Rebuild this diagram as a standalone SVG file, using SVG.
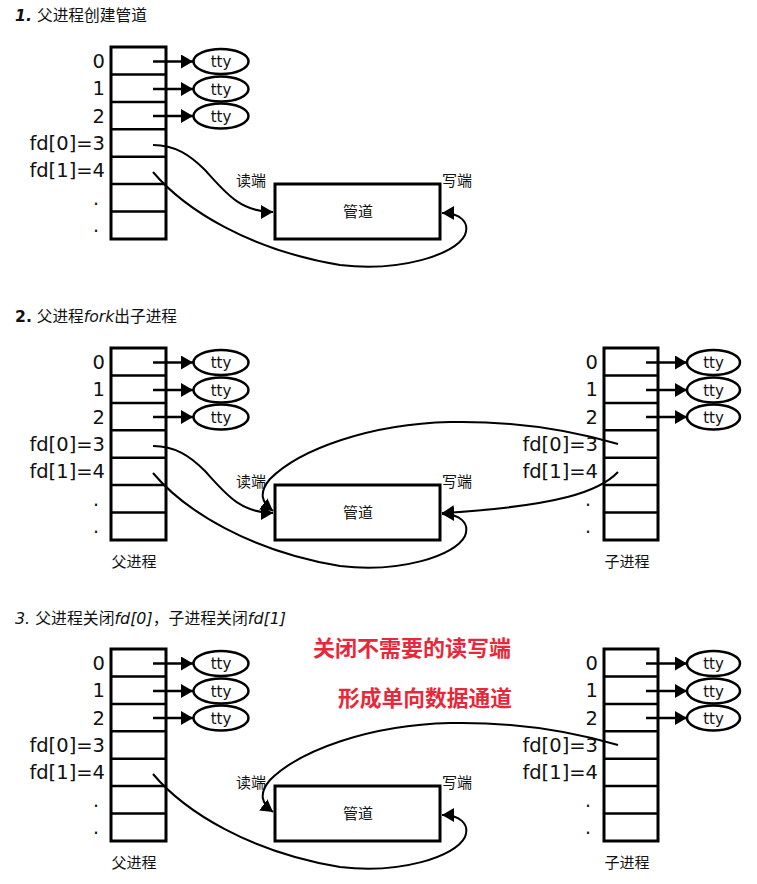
<svg xmlns="http://www.w3.org/2000/svg" width="757" height="884" viewBox="0 0 757 884">
<defs>
<style>
.tb{fill:#fff;stroke:#000;stroke-width:3}
.rl{fill:none;stroke:#000;stroke-width:2.5}
.el{fill:#fff;stroke:#000;stroke-width:2.5}
.num{font-family:"DejaVu Sans",sans-serif;font-size:19.5px;fill:#111;text-anchor:end}
.dot{font-family:"DejaVu Sans",sans-serif;font-size:19px;fill:#111;text-anchor:middle}
.tty{font-family:"DejaVu Sans",sans-serif;font-size:15px;fill:#111;text-anchor:middle}
.cj{font-family:"Noto Sans CJK SC",sans-serif;font-size:15px;fill:#111}
.ttl{font-family:"DejaVu Sans","Noto Sans CJK SC",sans-serif;font-size:15.5px;fill:#111}
.red{font-family:"Noto Sans CJK SC",sans-serif;font-weight:bold;font-size:21.5px;fill:#e8283a}
.pp{fill:#fff;stroke:#000;stroke-width:3}
.cn{fill:none;stroke:#000;stroke-width:2}
.ar{fill:none;stroke:#000;stroke-width:2.5}
</style>
<marker id="ah" viewBox="0 0 12 14" refX="12" refY="7" markerWidth="12" markerHeight="14" markerUnits="userSpaceOnUse" orient="auto"><path d="M0,0L12,7L0,14z" fill="#000"/></marker>
</defs>
<rect width="757" height="884" fill="#fff"/>

<!-- titles -->
<text class="ttl" x="15" y="21" textLength="132" lengthAdjust="spacingAndGlyphs"><tspan font-style="italic" font-weight="bold">1.</tspan> 父进程创建管道</text>
<text class="ttl" x="15" y="322" textLength="162" lengthAdjust="spacingAndGlyphs"><tspan font-weight="bold">2.</tspan> 父进程<tspan font-style="italic">fork</tspan>出子进程</text>
<text class="ttl" x="15" y="624" textLength="271" lengthAdjust="spacingAndGlyphs"><tspan font-style="italic">3.</tspan> 父进程关闭<tspan font-style="italic">fd[0]</tspan>，子进程关闭<tspan font-style="italic">fd[1]</tspan></text>

<text class="red" x="313" y="656" textLength="198" lengthAdjust="spacingAndGlyphs">关闭不需要的读写端</text>
<text class="red" x="338" y="706" textLength="174" lengthAdjust="spacingAndGlyphs">形成单向数据通道</text>

<!-- ===== Section 1 ===== -->
<g id="s1-parent-table">
<rect class="tb" x="111" y="47" width="55" height="192"/>
<path class="rl" d="M111,74.4H166M111,101.9H166M111,129.3H166M111,156.7H166M111,184.1H166M111,211.6H166"/>
<text class="num" x="105" y="67.7">0</text>
<text class="num" x="105" y="95.1">1</text>
<text class="num" x="105" y="122.6">2</text>
<text class="num" x="105" y="150">fd[0]=3</text>
<text class="num" x="105" y="177.4">fd[1]=4</text>
<text class="dot" x="96" y="205">.</text>
<text class="dot" x="96" y="232">.</text>
</g>
<g id="s1-tty0"><ellipse class="el" cx="221" cy="61.5" rx="27.5" ry="12.5"/><text class="tty" x="221" y="67">tty</text></g>
<g id="s1-tty1"><ellipse class="el" cx="221" cy="89" rx="27.5" ry="12.5"/><text class="tty" x="221" y="94.5">tty</text></g>
<g id="s1-tty2"><ellipse class="el" cx="221" cy="116" rx="27.5" ry="12.5"/><text class="tty" x="221" y="121.5">tty</text></g>
<g id="s1-pipe">
<rect class="pp" x="275" y="184" width="165" height="55"/>
<text class="cj" x="358" y="217" text-anchor="middle">管道</text>
<text class="cj" x="236" y="186">读端</text>
<text class="cj" x="442" y="186">写端</text>
</g>

<!-- ===== Section 2 ===== -->
<g id="s2-parent-table" transform="translate(0,301)">
<rect class="tb" x="111" y="47" width="55" height="192"/>
<path class="rl" d="M111,74.4H166M111,101.9H166M111,129.3H166M111,156.7H166M111,184.1H166M111,211.6H166"/>
<text class="num" x="105" y="67.7">0</text>
<text class="num" x="105" y="95.1">1</text>
<text class="num" x="105" y="122.6">2</text>
<text class="num" x="105" y="150">fd[0]=3</text>
<text class="num" x="105" y="177.4">fd[1]=4</text>
<text class="dot" x="96" y="205">.</text>
<text class="dot" x="96" y="232">.</text>
<text class="cj" x="134" y="266" text-anchor="middle">父进程</text>
</g>
<g id="s2-tty0" transform="translate(0,301)"><ellipse class="el" cx="221" cy="61.5" rx="27.5" ry="12.5"/><text class="tty" x="221" y="67">tty</text></g>
<g id="s2-tty1" transform="translate(0,301)"><ellipse class="el" cx="221" cy="89" rx="27.5" ry="12.5"/><text class="tty" x="221" y="94.5">tty</text></g>
<g id="s2-tty2" transform="translate(0,301)"><ellipse class="el" cx="221" cy="116" rx="27.5" ry="12.5"/><text class="tty" x="221" y="121.5">tty</text></g>
<g id="s2-pipe" transform="translate(0,301)">
<rect class="pp" x="275" y="184" width="165" height="55"/>
<text class="cj" x="358" y="217" text-anchor="middle">管道</text>
<text class="cj" x="236" y="186">读端</text>
<text class="cj" x="442" y="186">写端</text>
</g>
<g id="s2-child-table" transform="translate(0,301)">
<rect class="tb" x="604" y="47" width="54" height="192"/>
<path class="rl" d="M604,74.4H658M604,101.9H658M604,129.3H658M604,156.7H658M604,184.1H658M604,211.6H658"/>
<text class="num" x="598" y="67.7">0</text>
<text class="num" x="598" y="95.1">1</text>
<text class="num" x="598" y="122.6">2</text>
<text class="num" x="598" y="150">fd[0]=3</text>
<text class="num" x="598" y="177.4">fd[1]=4</text>
<text class="dot" x="588" y="205">.</text>
<text class="dot" x="588" y="232">.</text>
<text class="cj" x="627" y="266" text-anchor="middle">子进程</text>
</g>
<g id="s2-ctty0" transform="translate(0,301)"><ellipse class="el" cx="713.5" cy="61.5" rx="26.5" ry="12.5"/><text class="tty" x="713.5" y="67">tty</text></g>
<g id="s2-ctty1" transform="translate(0,301)"><ellipse class="el" cx="713.5" cy="89" rx="26.5" ry="12.5"/><text class="tty" x="713.5" y="94.5">tty</text></g>
<g id="s2-ctty2" transform="translate(0,301)"><ellipse class="el" cx="713.5" cy="116" rx="26.5" ry="12.5"/><text class="tty" x="713.5" y="121.5">tty</text></g>

<!-- ===== Section 3 ===== -->
<g id="s3-parent-table" transform="translate(0,602)">
<rect class="tb" x="111" y="47" width="55" height="192"/>
<path class="rl" d="M111,74.4H166M111,101.9H166M111,129.3H166M111,156.7H166M111,184.1H166M111,211.6H166"/>
<text class="num" x="105" y="67.7">0</text>
<text class="num" x="105" y="95.1">1</text>
<text class="num" x="105" y="122.6">2</text>
<text class="num" x="105" y="150">fd[0]=3</text>
<text class="num" x="105" y="177.4">fd[1]=4</text>
<text class="dot" x="96" y="205">.</text>
<text class="dot" x="96" y="232">.</text>
<text class="cj" x="134" y="266" text-anchor="middle">父进程</text>
</g>
<g id="s3-tty0" transform="translate(0,602)"><ellipse class="el" cx="221" cy="61.5" rx="27.5" ry="12.5"/><text class="tty" x="221" y="67">tty</text></g>
<g id="s3-tty1" transform="translate(0,602)"><ellipse class="el" cx="221" cy="89" rx="27.5" ry="12.5"/><text class="tty" x="221" y="94.5">tty</text></g>
<g id="s3-tty2" transform="translate(0,602)"><ellipse class="el" cx="221" cy="116" rx="27.5" ry="12.5"/><text class="tty" x="221" y="121.5">tty</text></g>
<g id="s3-pipe" transform="translate(0,602)">
<rect class="pp" x="275" y="184" width="165" height="55"/>
<text class="cj" x="358" y="217" text-anchor="middle">管道</text>
<text class="cj" x="236" y="186">读端</text>
<text class="cj" x="442" y="186">写端</text>
</g>
<g id="s3-child-table" transform="translate(0,602)">
<rect class="tb" x="604" y="47" width="54" height="192"/>
<path class="rl" d="M604,74.4H658M604,101.9H658M604,129.3H658M604,156.7H658M604,184.1H658M604,211.6H658"/>
<text class="num" x="598" y="67.7">0</text>
<text class="num" x="598" y="95.1">1</text>
<text class="num" x="598" y="122.6">2</text>
<text class="num" x="598" y="150">fd[0]=3</text>
<text class="num" x="598" y="177.4">fd[1]=4</text>
<text class="dot" x="588" y="205">.</text>
<text class="dot" x="588" y="232">.</text>
<text class="cj" x="627" y="266" text-anchor="middle">子进程</text>
</g>
<g id="s3-ctty0" transform="translate(0,602)"><ellipse class="el" cx="713.5" cy="61.5" rx="26.5" ry="12.5"/><text class="tty" x="713.5" y="67">tty</text></g>
<g id="s3-ctty1" transform="translate(0,602)"><ellipse class="el" cx="713.5" cy="89" rx="26.5" ry="12.5"/><text class="tty" x="713.5" y="94.5">tty</text></g>
<g id="s3-ctty2" transform="translate(0,602)"><ellipse class="el" cx="713.5" cy="116" rx="26.5" ry="12.5"/><text class="tty" x="713.5" y="121.5">tty</text></g>

<!-- ===== Connectors ===== -->
<g id="connectors">
<g id="s1-conn">
<path class="ar" d="M153,61.5H193" marker-end="url(#ah)"/>
<path class="ar" d="M153,89H193" marker-end="url(#ah)"/>
<path class="ar" d="M153,116H193" marker-end="url(#ah)"/>
<path class="cn" d="M153,145C175,145 190,155 205,170C225,192 240,212 273,212" marker-end="url(#ah)"/>
<path class="cn" d="M153,172C185,210 250,250 340,265C400,272 455,255 465,235C470,222 460,213 442,213" marker-end="url(#ah)"/>
</g>
<g id="s2-conn" transform="translate(0,301)">
<path class="ar" d="M153,61.5H193" marker-end="url(#ah)"/>
<path class="ar" d="M153,89H193" marker-end="url(#ah)"/>
<path class="ar" d="M153,116H193" marker-end="url(#ah)"/>
<path class="ar" d="M646,61.5H687" marker-end="url(#ah)"/>
<path class="ar" d="M646,89H687" marker-end="url(#ah)"/>
<path class="ar" d="M646,116H687" marker-end="url(#ah)"/>
<path class="cn" d="M153,145C175,145 190,155 205,170C225,192 240,212 273,212" marker-end="url(#ah)"/>
<path class="cn" d="M153,172C185,210 250,250 340,265C400,272 455,255 465,235C470,222 460,213 442,213" marker-end="url(#ah)"/>
<path class="cn" d="M618,143C560,126 500,120 450,121C370,123 300,148 270,178C258,192 262,202 273,210" marker-end="url(#ah)"/>
<path class="cn" d="M618,171C600,190 560,205 442,212" marker-end="url(#ah)"/>
</g>
<g id="s3-conn" transform="translate(0,602)">
<path class="ar" d="M153,61.5H193" marker-end="url(#ah)"/>
<path class="ar" d="M153,89H193" marker-end="url(#ah)"/>
<path class="ar" d="M153,116H193" marker-end="url(#ah)"/>
<path class="ar" d="M646,61.5H687" marker-end="url(#ah)"/>
<path class="ar" d="M646,89H687" marker-end="url(#ah)"/>
<path class="ar" d="M646,116H687" marker-end="url(#ah)"/>
<path class="cn" d="M153,172C185,210 250,250 340,265C400,272 455,255 465,235C470,222 460,213 442,213" marker-end="url(#ah)"/>
<path class="cn" d="M618,143C560,126 500,120 450,121C370,123 300,148 270,178C258,192 262,202 273,210" marker-end="url(#ah)"/>
</g>
</g>
</svg>
